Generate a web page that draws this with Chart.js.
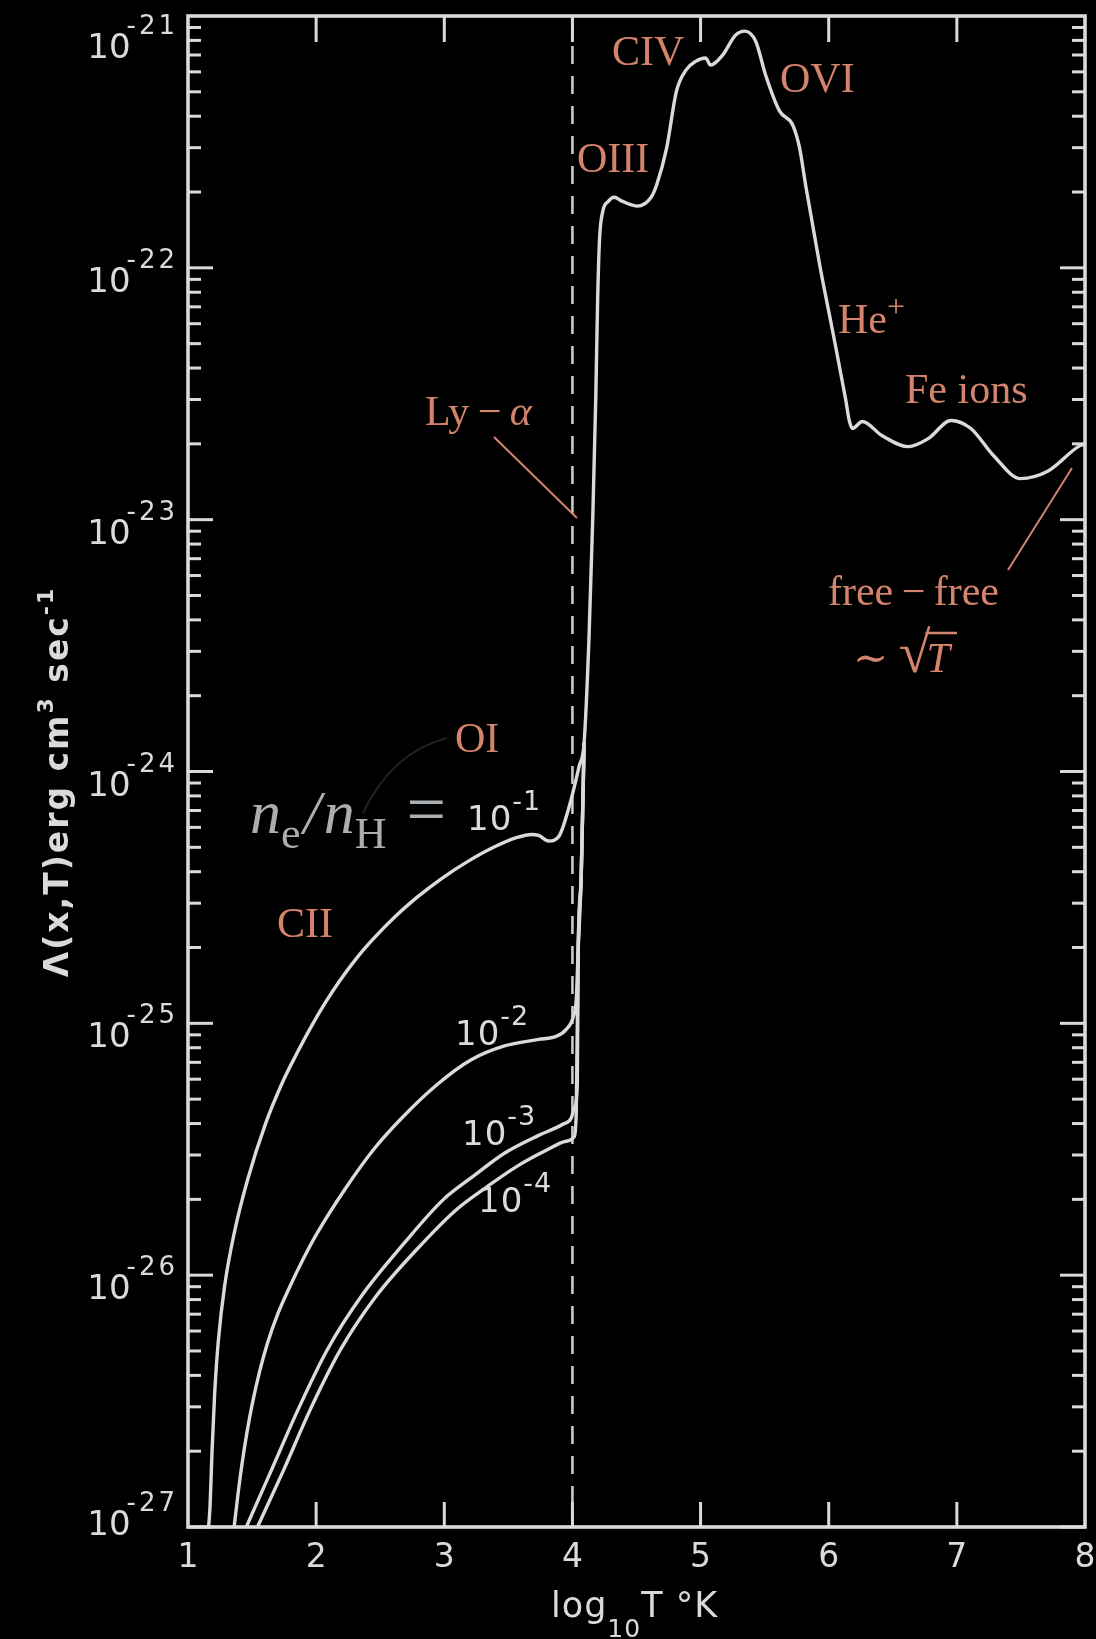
<!DOCTYPE html>
<html>
<head>
<meta charset="utf-8">
<title>Cooling function</title>
<script src="https://cdn.jsdelivr.net/npm/chart.js@4.4.0/dist/chart.umd.min.js"></script>
<style>
  html, body { margin: 0; padding: 0; background: #000; }
  #wrap { position: relative; width: 1096px; height: 1639px; }
</style>
</head>
<body>
<div id="wrap"><canvas id="coolChart"></canvas></div>
<script>
// values: log10 T and log10 Lambda for each n_e/n_H curve
var logT_e1 = [1.161, 1.172, 1.188, 1.208, 1.237, 1.286, 1.359, 1.465, 1.604, 1.742, 1.849, 1.955, 2.069, 2.183,
  2.313, 2.444, 2.615, 2.786, 2.982, 3.178, 3.373, 3.569, 3.68, 3.736, 3.816, 3.896, 3.976, 4.053, 4.091,
  4.129, 4.159, 4.182, 4.197, 4.212, 4.235, 4.28, 4.326, 4.386, 4.508, 4.614, 4.659, 4.735, 4.811, 4.886, 4.962,
  5.039, 5.078, 5.172, 5.273, 5.344, 5.43, 5.508, 5.617, 5.719, 5.773, 5.82, 5.93, 6.031, 6.131, 6.162, 6.185,
  6.262, 6.415, 6.623, 6.777, 6.954, 7.109, 7.287, 7.496, 7.705, 7.961, 8.0];
var logL_e1 = [-27.0, -26.917, -26.693, -26.47, -26.259, -26.042, -25.837, -25.621, -25.40, -25.229, -25.12,
  -25.019, -24.92, -24.832, -24.743, -24.666, -24.577, -24.50, -24.424, -24.359, -24.304, -24.262, -24.25, -24.254,
  -24.276, -24.256, -24.137, -23.978, -23.886, -23.473, -22.988, -22.519, -22.121, -21.883,
  -21.78, -21.736, -21.72, -21.735, -21.755, -21.72, -21.668, -21.525, -21.30, -21.215, -21.18, -21.167, -21.195,
  -21.155, -21.076, -21.06, -21.10, -21.235, -21.378, -21.433, -21.525, -21.672, -21.99, -22.252, -22.519, -22.61,
  -22.638, -22.61, -22.666, -22.71, -22.678, -22.606, -22.638, -22.746, -22.837, -22.809, -22.706, -22.70];

var logT_e2 = [1.36, 1.39, 1.42, 1.46, 1.50, 1.56, 1.62, 1.70, 1.80, 1.90, 2.00, 2.23, 2.45, 2.68, 2.94, 3.21,
  3.47, 3.736, 3.872, 3.952, 4.008, 4.03, 4.045, 4.068, 4.091];
var logL_e2 = [-27.0, -26.87, -26.755, -26.625, -26.515, -26.38, -26.27, -26.155, -26.04, -25.935, -25.84,
  -25.655, -25.50, -25.37, -25.245, -25.145, -25.09, -25.064, -25.052, -25.024, -24.972, -24.905, -24.706,
  -24.427, -23.886];

var logT_e3 = [1.455, 1.652, 1.858, 2.087, 2.362, 2.677, 2.992, 3.232, 3.472, 3.736, 3.928, 3.992, 4.015, 4.038,
  4.045, 4.068, 4.091];
var logL_e3 = [-27.0, -26.773, -26.535, -26.296, -26.077, -25.879, -25.70, -25.605, -25.515, -25.445, -25.40,
  -25.375, -25.334, -25.243, -24.706, -24.427, -23.886];

var logT_e4 = [1.542, 1.747, 1.953, 2.19, 2.466, 2.783, 3.096, 3.336, 3.576, 3.792, 3.952, 4.015, 4.03, 4.045,
  4.068, 4.091];
var logL_e4 = [-27.0, -26.773, -26.535, -26.296, -26.085, -25.899, -25.739, -25.648, -25.565, -25.505, -25.468,
  -25.449, -25.35, -24.706, -24.427, -23.886];

// axes
var xTicks = [1, 2, 3, 4, 5, 6, 7, 8];
var yDecades = [-21, -22, -23, -24, -25, -26, -27];
var hydrogenLine = 4;

var INK = '#dadada';
var ORANGE = '#d4846c';
var GREY = '#a9aeb2';
var SANS = '"DejaVu Sans", sans-serif';
var SERIF = '"Liberation Serif", "DejaVu Serif", serif';

function toPoints(xs, ls) {
  return xs.map(function (x, i) { return { x: x, y: Math.pow(10, ls[i]) }; });
}

function curve(xs, ls) {
  return {
    data: toPoints(xs, ls),
    borderColor: INK,
    borderWidth: 3.4,
    pointRadius: 0,
    cubicInterpolationMode: 'monotone',
    fill: false
  };
}

// draw a row of text pieces (for super/subscripts)
function textRun(ctx, x, y, parts, align) {
  var w = 0;
  parts.forEach(function (p) { ctx.font = p.f; w += ctx.measureText(p.t).width + (p.gap || 0); });
  var cx = align === 'center' ? x - w / 2 : (align === 'right' ? x - w : x);
  parts.forEach(function (p) {
    ctx.font = p.f;
    ctx.fillText(p.t, cx, y + (p.dy || 0));
    cx += ctx.measureText(p.t).width + (p.gap || 0);
  });
  return w;
}

function seg(ctx, x1, y1, x2, y2) {
  ctx.beginPath(); ctx.moveTo(x1, y1); ctx.lineTo(x2, y2); ctx.stroke();
}

var decor = {
  id: 'decor',
  afterDatasetsDraw: function (chart) {
    var ctx = chart.ctx, xs = chart.scales.x, ys = chart.scales.y, a = chart.chartArea;
    ctx.save();
    ctx.textAlign = 'left';
    ctx.textBaseline = 'alphabetic';

    // frame
    ctx.strokeStyle = INK;
    ctx.lineWidth = 3.6;
    ctx.strokeRect(a.left, a.top, a.right - a.left, a.bottom - a.top);

    // inward ticks on left and right (log minor ticks)
    ctx.lineWidth = 3;
    for (var d = -27; d < -21; d++) {
      for (var m = 1; m < 10; m++) {
        var py = ys.getPixelForValue(m * Math.pow(10, d));
        var len = m === 1 ? 25 : 13;
        seg(ctx, a.left, py, a.left + len, py);
        seg(ctx, a.right, py, a.right - len, py);
      }
    }
    // ticks top and bottom
    xTicks.forEach(function (t) {
      if (t === 1 || t === 8) return;
      var px = xs.getPixelForValue(t);
      seg(ctx, px, a.top, px, a.top + 26);
      seg(ctx, px, a.bottom, px, a.bottom - 25);
    });

    // x tick labels
    ctx.fillStyle = INK;
    ctx.font = '33px ' + SANS;
    ctx.textAlign = 'center';
    xTicks.forEach(function (t) {
      ctx.fillText(String(t), xs.getPixelForValue(t), 1567);
    });
    ctx.textAlign = 'left';

    // y tick labels 10^-n
    yDecades.forEach(function (e) {
      var py = ys.getPixelForValue(Math.pow(10, e));
      var base = py + (e === -21 ? 42 : (e === -27 ? 8 : 24));
      ctx.letterSpacing = '3px';
      ctx.font = '26px ' + SANS;
      var sw = ctx.measureText('-' + (-e)).width;
      ctx.fillText('-' + (-e), 178 - sw, base - 24);
      ctx.letterSpacing = '0px';
      ctx.font = '34px ' + SANS;
      var tw = ctx.measureText('10').width;
      ctx.fillText('10', 178 - sw + 4 - tw, base);
    });

    // y title
    ctx.save();
    ctx.translate(68, 782);
    ctx.rotate(-Math.PI / 2);
    ctx.letterSpacing = '2px';
    textRun(ctx, 0, 0, [
      { t: '\u039B(x,T)erg cm', f: 'bold 33px ' + SANS },
      { t: '3', f: 'bold 22px ' + SANS, dy: -15 },
      { t: ' sec', f: 'bold 33px ' + SANS },
      { t: '-1', f: 'bold 22px ' + SANS, dy: -15 }
    ], 'center');
    ctx.restore();

    // x title
    ctx.letterSpacing = '1px';
    textRun(ctx, 551, 1617, [
      { t: 'log', f: '35px ' + SANS },
      { t: '10', f: '25px ' + SANS, dy: 20 },
      { t: 'T \u00B0K', f: '35px ' + SANS }
    ], 'left');

    // density labels on the curves
    var dens = [
      { n: 1, x: 467, y: 830 },
      { n: 2, x: 455, y: 1045 },
      { n: 3, x: 462, y: 1145 },
      { n: 4, x: 478, y: 1212 }
    ];
    dens.forEach(function (q) {
      ctx.letterSpacing = '1px';
      textRun(ctx, q.x, q.y, [
        { t: '10', f: '34px ' + SANS },
        { t: '-' + q.n, f: '27px ' + SANS, dy: -20 }
      ], 'left');
    });
    ctx.letterSpacing = '0px';

    // n_e / n_H =
    ctx.fillStyle = GREY;
    textRun(ctx, 250, 833, [
      { t: 'n', f: 'italic 62px ' + SERIF },
      { t: 'e', f: '44px ' + SERIF, dy: 15, gap: 3 },
      { t: '/', f: 'italic 62px ' + SERIF, gap: 3 },
      { t: 'n', f: 'italic 62px ' + SERIF },
      { t: 'H', f: '44px ' + SERIF, dy: 15, gap: 20 },
      { t: '=', f: '70px ' + SERIF }
    ], 'left');

    // ion labels
    ctx.fillStyle = ORANGE;
    var f42 = '42px ' + SERIF;
    ctx.font = f42;
    ctx.fillText('CIV', 612, 65);
    ctx.fillText('OIII', 577, 172);
    ctx.fillText('OVI', 780, 92);
    ctx.fillText('Fe ions', 905, 403);
    ctx.fillText('OI', 455, 752);
    ctx.fillText('CII', 277, 937);
    textRun(ctx, 838, 333, [
      { t: 'He', f: f42 },
      { t: '+', f: '32px ' + SERIF, dy: -16 }
    ], 'left');
    textRun(ctx, 425, 425, [
      { t: 'Ly\u2009\u2212\u2009', f: f42 },
      { t: '\u03B1', f: 'italic 42px ' + SERIF }
    ], 'left');
    textRun(ctx, 828, 605, [
      { t: 'free\u2009\u2212\u2009free', f: f42 }
    ], 'left');
    var w1 = textRun(ctx, 853, 672, [
      { t: '\u223C ', f: f42 },
      { t: '\u221A', f: '58px ' + SERIF }
    ], 'left');
    textRun(ctx, 853 + w1 - 4, 672, [{ t: 'T', f: 'italic 42px ' + SERIF }], 'left');

    // pointers
    ctx.strokeStyle = ORANGE;
    ctx.lineWidth = 2;
    seg(ctx, 494, 437, 577, 518);
    seg(ctx, 1008, 570, 1072, 468);
    ctx.lineWidth = 2.5;
    seg(ctx, 853 + w1 - 5, 633, 957, 633);

    // faint OI pointer
    ctx.lineWidth = 2;
    ctx.strokeStyle = 'rgba(110,110,110,0.3)';
    ctx.beginPath();
    ctx.moveTo(447, 738);
    ctx.quadraticCurveTo(392, 752, 363, 813);
    ctx.stroke();

    ctx.restore();
  }
};

var datasets = [
  curve(logT_e1, logL_e1),
  curve(logT_e2, logL_e2),
  curve(logT_e3, logL_e3),
  curve(logT_e4, logL_e4),
  {
    data: [{ x: hydrogenLine, y: 1e-21 }, { x: hydrogenLine, y: 1e-27 }],
    borderColor: '#cfcfcf',
    borderWidth: 2.5,
    borderDash: [18, 12],
    pointRadius: 0,
    tension: 0
  }
];

new Chart(document.getElementById('coolChart'), {
  type: 'line',
  data: { datasets: datasets },
  options: {
    responsive: true,
    maintainAspectRatio: false,
    devicePixelRatio: 1,
    animation: false,
    layout: { padding: { left: 188, right: 11, top: 16, bottom: 112 } },
    plugins: { legend: { display: false }, tooltip: { enabled: false } },
    scales: {
      x: { type: 'linear', min: 1, max: 8, display: false },
      y: { type: 'logarithmic', min: 1e-27, max: 1e-21, display: false }
    }
  },
  plugins: [decor]
});
</script>
</body>
</html>
